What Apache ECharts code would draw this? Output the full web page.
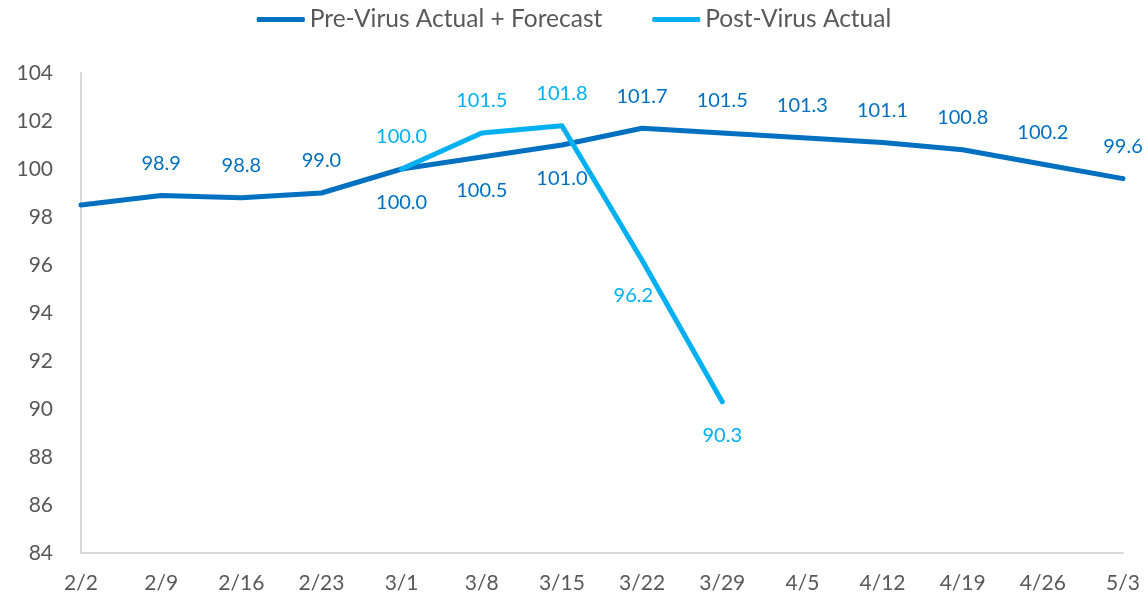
<!DOCTYPE html>
<html><head><meta charset="utf-8">
<script src="https://cdn.jsdelivr.net/npm/echarts@6/dist/echarts.min.js"></script>
<style>html,body{margin:0;padding:0;background:#fff}#c{width:1148px;height:604px}</style>
</head><body><div id="c"></div>
<script>
const categories = ['2/2','2/9','2/16','2/23','3/1','3/8','3/15','3/22','3/29','4/5','4/12','4/19','4/26','5/3'];
const preVirus = [98.5, 98.9, 98.8, 99.0, 100.0, 100.5, 101.0, 101.7, 101.5, 101.3, 101.1, 100.8, 100.2, 99.6];
const postVirus = [null, null, null, null, 100.0, 101.5, 101.8, 96.2, 90.3, null, null, null, null, null];
const preNames = 'Pre-Virus Actual + Forecast';
const postNames = 'Post-Virus Actual';

// label placement (style only)
const preLabelPos = ['none','top','top','top','bottom','bottom','bottom','top','top','top','top','top','top','top'];
const postLabelPos = [null,null,null,null,'top','top','top','leftdown','bottom',null,null,null,null,null];

const font = "Lato, 'Open Sans', sans-serif";
function labelFor(pos, color){
  const base = {color, fontSize:20, fontFamily:font, formatter:p=>p.value.toFixed(1)};
  if (pos === 'top') return Object.assign({show:true, position:'top', distance:20}, base);
  if (pos === 'bottom') return Object.assign({show:true, position:'bottom', distance:22}, base);
  if (pos === 'leftdown') return Object.assign({show:true, position:'left', distance:0, offset:[13,35]}, base);
  return {show:false};
}
const preData = preVirus.map((v,i)=>({value:v, label: labelFor(preLabelPos[i], '#0070C0')}));
const postData = postVirus.map((v,i)=>v===null?null:({value:v, label: labelFor(postLabelPos[i], '#00B0F0')}));

const chart = echarts.init(document.getElementById('c'));
chart.setOption({
  animation:false,
  legend:{
    top:2, left:'center', itemWidth:48, itemHeight:5, itemGap:50,
    textStyle:{fontSize:24.5, color:'#595959', fontFamily:font},
    data:[{name:preNames, icon:'roundRect'},{name:postNames, icon:'roundRect'}]
  },
  grid:{left:81, right:25, top:73, bottom:51},
  xAxis:{
    type:'category', data:categories, boundaryGap:false,
    axisLine:{lineStyle:{color:'#d9d9d9', width:2}},
    axisTick:{show:false},
    axisLabel:{fontSize:21, color:'#595959', fontFamily:font, margin:20}
  },
  yAxis:{
    type:'value', min:84, max:104, interval:2,
    axisLine:{show:true, lineStyle:{color:'#d9d9d9', width:2}},
    axisTick:{show:false},
    splitLine:{show:false},
    axisLabel:{fontSize:21, color:'#595959', fontFamily:font, margin:28}
  },
  series:[
    {name:preNames, type:'line', data:preData, symbol:'circle', symbolSize:4, showSymbol:true,
     itemStyle:{color:'#0070C0'}, color:'#0070C0',
     lineStyle:{width:5, color:'#0070C0', cap:'round', join:'round'}, z:2},
    {name:postNames, type:'line', data:postData, symbol:'circle', symbolSize:4, showSymbol:true,
     itemStyle:{color:'#00B0F0'}, color:'#00B0F0', connectNulls:false,
     lineStyle:{width:5, color:'#00B0F0', cap:'round', join:'round'}, z:3}
  ]
});
</script></body></html>
